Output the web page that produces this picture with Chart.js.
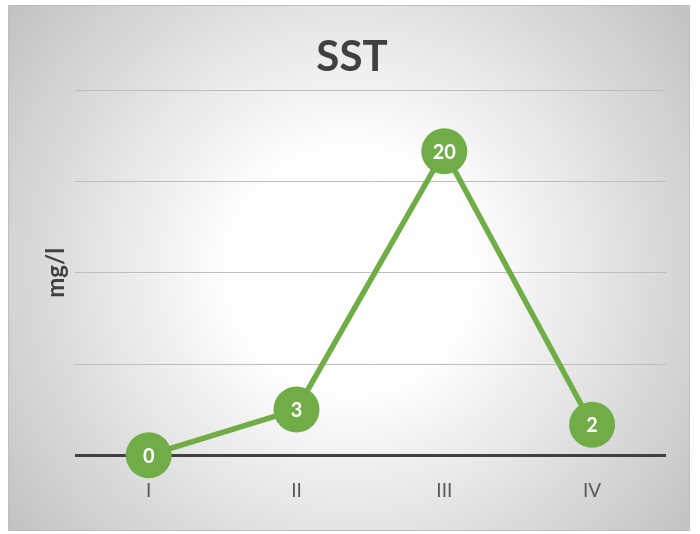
<!DOCTYPE html>
<html>
<head>
<meta charset="utf-8">
<script src="https://cdn.jsdelivr.net/npm/chart.js@4"></script>
<style>
  html, body { margin: 0; padding: 0; background: #fff; }
  #wrap { width: 700px; height: 534px; }
</style>
</head>
<body>
<div id="wrap"><canvas id="chart" width="700" height="534"></canvas></div>
<script>
// data
var categories = ['I', 'II', 'III', 'IV'];
var sstValues = [0, 3, 20, 2];
var yTicks = [0, 6, 12, 18, 24];

var green = '#70AD47';

// grey radial background with a thin frame, like the office chart
var framePlugin = {
    id: 'frame',
    beforeDraw: function (chart) {
        var c = chart.ctx;
        var x0 = 8, y0 = 5, x1 = 690, y1 = 531;
        c.save();
        var g = c.createRadialGradient(350, 270, 0, 350, 270, 430);
        g.addColorStop(0, '#ffffff');
        g.addColorStop(0.3, '#fdfdfd');
        g.addColorStop(1, '#c2c2c2');
        c.fillStyle = g;
        c.fillRect(x0, y0, x1 - x0, y1 - y0);
        c.strokeStyle = '#bfbfbf';
        c.lineWidth = 1;
        c.strokeRect(x0 + 0.5, y0 + 0.5, x1 - x0 - 1, y1 - y0 - 1);
        c.restore();
    }
};

// values written inside the markers
var valueLabels = {
    id: 'valueLabels',
    afterDatasetsDraw: function (chart) {
        var c = chart.ctx;
        var meta = chart.getDatasetMeta(0);
        c.save();
        c.fillStyle = '#ffffff';
        c.font = 'bold 20px Lato, "Open Sans", sans-serif';
        c.textAlign = 'center';
        c.textBaseline = 'middle';
        meta.data.forEach(function (pt, i) {
            c.fillText(String(sstValues[i]), pt.x, pt.y + 1);
        });
        c.restore();
    }
};

var ctx = document.getElementById('chart').getContext('2d');
var chart = new Chart(ctx, {
    type: 'line',
    data: {
        labels: categories,
        datasets: [{
            label: 'SST',
            data: sstValues,
            borderColor: green,
            borderWidth: 5.5,
            backgroundColor: green,
            pointBackgroundColor: green,
            pointBorderWidth: 0,
            pointRadius: 23,
            pointHoverRadius: 23,
            tension: 0,
            clip: false
        }]
    },
    options: {
        responsive: false,
        animation: false,
        events: [],
        layout: { padding: { top: 22, left: 38, right: 34, bottom: 8 } },
        plugins: {
            legend: { display: false },
            tooltip: { enabled: false },
            title: {
                display: true,
                text: 'SST',
                color: '#404040',
                font: { family: 'Lato, "Open Sans", sans-serif', size: 42, weight: 'bold' },
                padding: { top: 10, bottom: 8 }
            }
        },
        scales: {
            x: {
                offset: true,
                grid: { display: false, drawTicks: false },
                border: { display: false },
                ticks: {
                    color: '#595959',
                    padding: 24,
                    font: { family: 'Lato, "Open Sans", sans-serif', size: 19 }
                }
            },
            y: {
                min: yTicks[0],
                max: yTicks[yTicks.length - 1],
                afterBuildTicks: function (axis) {
                    axis.ticks = yTicks.map(function (v) { return { value: v }; });
                },
                ticks: { display: false },
                border: { display: false },
                grid: {
                    drawTicks: false,
                    color: function (c) { return c.tick && c.tick.value === 0 ? '#404040' : '#bdbdbd'; },
                    lineWidth: function (c) { return c.tick && c.tick.value === 0 ? 3 : 1; }
                },
                title: {
                    display: true,
                    text: 'mg/l',
                    color: '#404040',
                    font: { family: 'Lato, "Open Sans", sans-serif', size: 24, weight: 'bold' },
                    padding: { top: 4, bottom: 4 }
                }
            }
        }
    },
    plugins: [framePlugin, valueLabels]
});
</script>
</body>
</html>
